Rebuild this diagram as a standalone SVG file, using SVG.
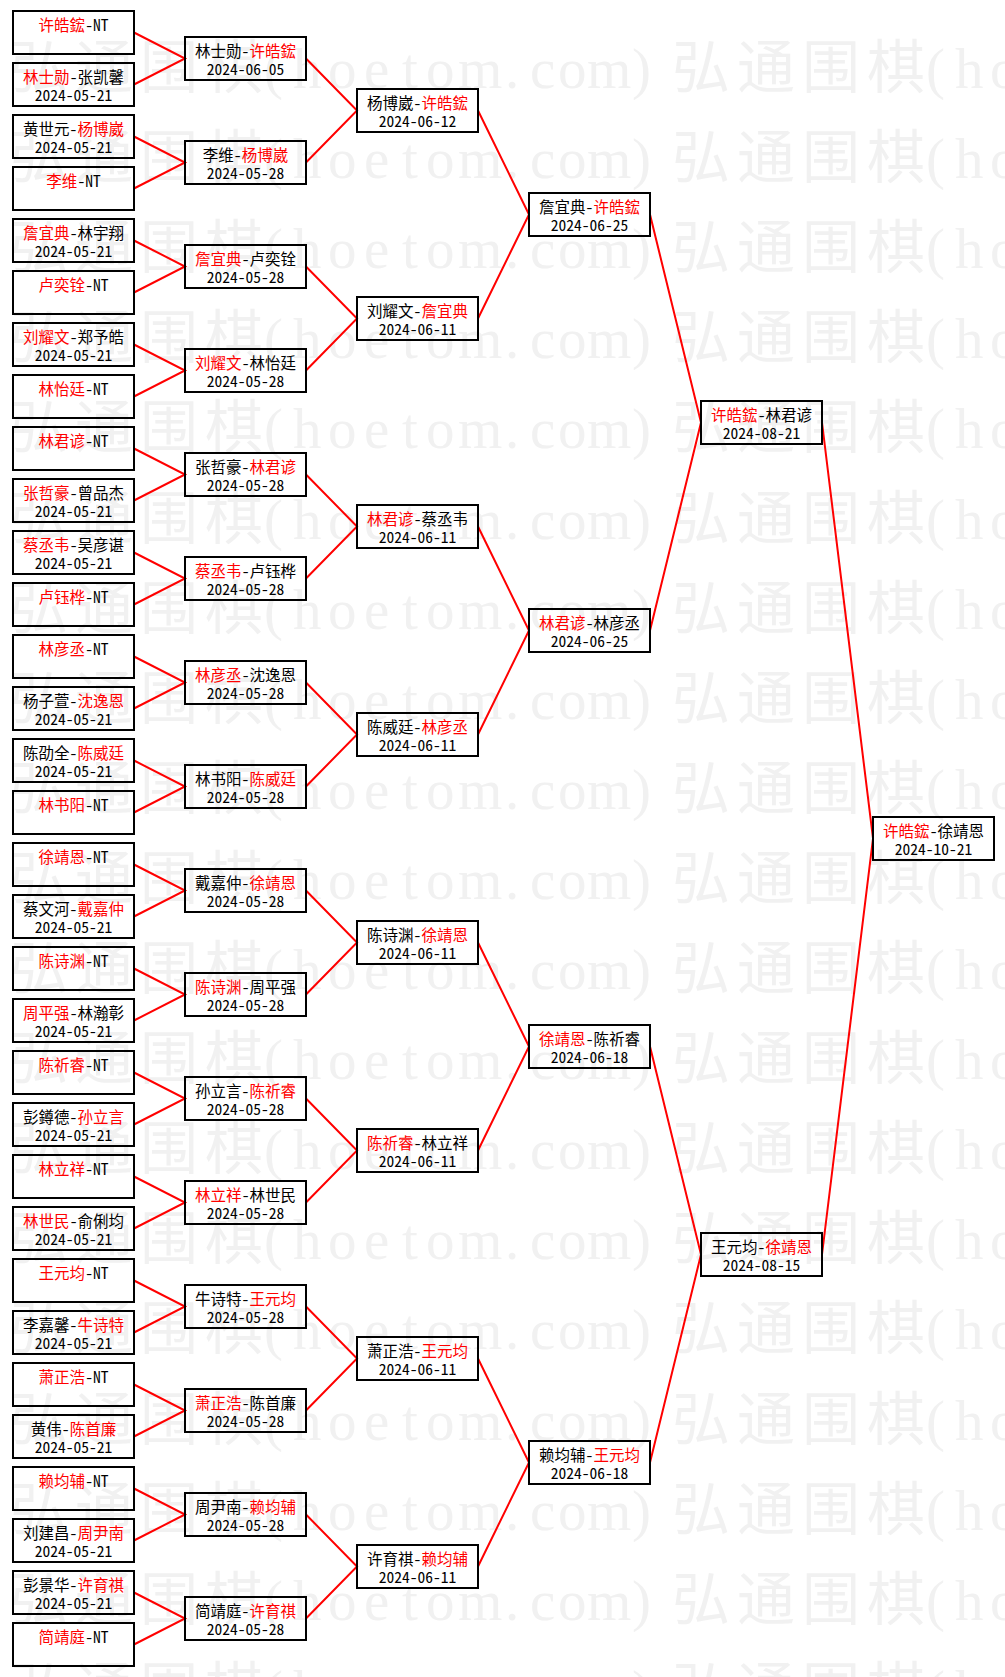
<svg xmlns="http://www.w3.org/2000/svg" xmlns:xlink="http://www.w3.org/1999/xlink" width="1005" height="1677" viewBox="0 0 1005 1677">
<style>
.bg{fill:#ffffff}
.wm{fill:#f1f1f1}
.wc{font-family:"Noto Sans CJK SC",serif;font-size:58px;letter-spacing:7px}
.wl{font-family:"Liberation Serif",serif;font-size:57px}
.c{fill:none;stroke:#f00;stroke-width:2}
.b{fill:none;stroke:#000;stroke-width:2}
.t{font-family:"Noto Sans Mono CJK SC","Noto Sans CJK SC",sans-serif;font-size:15.5px;fill:#000;text-anchor:middle}
.w{fill:#f00}
</style>
<defs>
<text id="wm" class="wm" y="88"><tspan class="wc" x="10">弘通围棋</tspan><tspan class="wl" x="264 293 328 364 402 426 458 505 530 558 587 632">(hoetom.com)</tspan><tspan class="wc" x="672">弘通围棋</tspan><tspan class="wl" x="926 955 990">(ho</tspan></text>
</defs>
<rect class="bg" x="0" y="0" width="1005" height="1677"/>
<g id="watermark">
<use xlink:href="#wm" y="0"/>
<use xlink:href="#wm" y="90.1"/>
<use xlink:href="#wm" y="180.2"/>
<use xlink:href="#wm" y="270.3"/>
<use xlink:href="#wm" y="360.4"/>
<use xlink:href="#wm" y="450.5"/>
<use xlink:href="#wm" y="540.6"/>
<use xlink:href="#wm" y="630.7"/>
<use xlink:href="#wm" y="720.8"/>
<use xlink:href="#wm" y="810.9"/>
<use xlink:href="#wm" y="901"/>
<use xlink:href="#wm" y="991.1"/>
<use xlink:href="#wm" y="1081.2"/>
<use xlink:href="#wm" y="1171.3"/>
<use xlink:href="#wm" y="1261.4"/>
<use xlink:href="#wm" y="1351.5"/>
<use xlink:href="#wm" y="1441.6"/>
<use xlink:href="#wm" y="1531.7"/>
<use xlink:href="#wm" y="1621.8"/>
</g>
<g id="connectors">
<path class="c" d="M134 32.5L185 58.5L134 84.5"/>
<path class="c" d="M134 136.5L185 162.5L134 188.5"/>
<path class="c" d="M134 240.5L185 266.5L134 292.5"/>
<path class="c" d="M134 344.5L185 370.5L134 396.5"/>
<path class="c" d="M134 448.5L185 474.5L134 500.5"/>
<path class="c" d="M134 552.5L185 578.5L134 604.5"/>
<path class="c" d="M134 656.5L185 682.5L134 708.5"/>
<path class="c" d="M134 760.5L185 786.5L134 812.5"/>
<path class="c" d="M134 864.5L185 890.5L134 916.5"/>
<path class="c" d="M134 968.5L185 994.5L134 1020.5"/>
<path class="c" d="M134 1072.5L185 1098.5L134 1124.5"/>
<path class="c" d="M134 1176.5L185 1202.5L134 1228.5"/>
<path class="c" d="M134 1280.5L185 1306.5L134 1332.5"/>
<path class="c" d="M134 1384.5L185 1410.5L134 1436.5"/>
<path class="c" d="M134 1488.5L185 1514.5L134 1540.5"/>
<path class="c" d="M134 1592.5L185 1618.5L134 1644.5"/>
<path class="c" d="M306 58.5L357 110.5L306 162.5"/>
<path class="c" d="M306 266.5L357 318.5L306 370.5"/>
<path class="c" d="M306 474.5L357 526.5L306 578.5"/>
<path class="c" d="M306 682.5L357 734.5L306 786.5"/>
<path class="c" d="M306 890.5L357 942.5L306 994.5"/>
<path class="c" d="M306 1098.5L357 1150.5L306 1202.5"/>
<path class="c" d="M306 1306.5L357 1358.5L306 1410.5"/>
<path class="c" d="M306 1514.5L357 1566.5L306 1618.5"/>
<path class="c" d="M478 110.5L529 214.5L478 318.5"/>
<path class="c" d="M478 526.5L529 630.5L478 734.5"/>
<path class="c" d="M478 942.5L529 1046.5L478 1150.5"/>
<path class="c" d="M478 1358.5L529 1462.5L478 1566.5"/>
<path class="c" d="M650 214.5L701 422.5L650 630.5"/>
<path class="c" d="M650 1046.5L701 1254.5L650 1462.5"/>
<path class="c" d="M822 422.5L873 838.5L822 1254.5"/>
</g>
<g id="r1">
<g id="m0-0" transform="translate(12,10)"><rect class="b" x="1" y="1" width="121" height="43"/><text class="t" x="61.5" y="20.5"><tspan class="w">许皓鋐</tspan>-NT</text></g>
<g id="m0-1" transform="translate(12,62)"><rect class="b" x="1" y="1" width="121" height="43"/><text class="t" x="61.5" y="20.5"><tspan class="w">林士勋</tspan>-张凯馨</text><text class="t" x="61.5" y="38.5">2024-05-21</text></g>
<g id="m0-2" transform="translate(12,114)"><rect class="b" x="1" y="1" width="121" height="43"/><text class="t" x="61.5" y="20.5">黄世元-<tspan class="w">杨博崴</tspan></text><text class="t" x="61.5" y="38.5">2024-05-21</text></g>
<g id="m0-3" transform="translate(12,166)"><rect class="b" x="1" y="1" width="121" height="43"/><text class="t" x="61.5" y="20.5"><tspan class="w">李维</tspan>-NT</text></g>
<g id="m0-4" transform="translate(12,218)"><rect class="b" x="1" y="1" width="121" height="43"/><text class="t" x="61.5" y="20.5"><tspan class="w">詹宜典</tspan>-林宇翔</text><text class="t" x="61.5" y="38.5">2024-05-21</text></g>
<g id="m0-5" transform="translate(12,270)"><rect class="b" x="1" y="1" width="121" height="43"/><text class="t" x="61.5" y="20.5"><tspan class="w">卢奕铨</tspan>-NT</text></g>
<g id="m0-6" transform="translate(12,322)"><rect class="b" x="1" y="1" width="121" height="43"/><text class="t" x="61.5" y="20.5"><tspan class="w">刘耀文</tspan>-郑予皓</text><text class="t" x="61.5" y="38.5">2024-05-21</text></g>
<g id="m0-7" transform="translate(12,374)"><rect class="b" x="1" y="1" width="121" height="43"/><text class="t" x="61.5" y="20.5"><tspan class="w">林怡廷</tspan>-NT</text></g>
<g id="m0-8" transform="translate(12,426)"><rect class="b" x="1" y="1" width="121" height="43"/><text class="t" x="61.5" y="20.5"><tspan class="w">林君谚</tspan>-NT</text></g>
<g id="m0-9" transform="translate(12,478)"><rect class="b" x="1" y="1" width="121" height="43"/><text class="t" x="61.5" y="20.5"><tspan class="w">张哲豪</tspan>-曾品杰</text><text class="t" x="61.5" y="38.5">2024-05-21</text></g>
<g id="m0-10" transform="translate(12,530)"><rect class="b" x="1" y="1" width="121" height="43"/><text class="t" x="61.5" y="20.5"><tspan class="w">蔡丞韦</tspan>-吴彦谌</text><text class="t" x="61.5" y="38.5">2024-05-21</text></g>
<g id="m0-11" transform="translate(12,582)"><rect class="b" x="1" y="1" width="121" height="43"/><text class="t" x="61.5" y="20.5"><tspan class="w">卢钰桦</tspan>-NT</text></g>
<g id="m0-12" transform="translate(12,634)"><rect class="b" x="1" y="1" width="121" height="43"/><text class="t" x="61.5" y="20.5"><tspan class="w">林彦丞</tspan>-NT</text></g>
<g id="m0-13" transform="translate(12,686)"><rect class="b" x="1" y="1" width="121" height="43"/><text class="t" x="61.5" y="20.5">杨子萱-<tspan class="w">沈逸恩</tspan></text><text class="t" x="61.5" y="38.5">2024-05-21</text></g>
<g id="m0-14" transform="translate(12,738)"><rect class="b" x="1" y="1" width="121" height="43"/><text class="t" x="61.5" y="20.5">陈劭全-<tspan class="w">陈威廷</tspan></text><text class="t" x="61.5" y="38.5">2024-05-21</text></g>
<g id="m0-15" transform="translate(12,790)"><rect class="b" x="1" y="1" width="121" height="43"/><text class="t" x="61.5" y="20.5"><tspan class="w">林书阳</tspan>-NT</text></g>
<g id="m0-16" transform="translate(12,842)"><rect class="b" x="1" y="1" width="121" height="43"/><text class="t" x="61.5" y="20.5"><tspan class="w">徐靖恩</tspan>-NT</text></g>
<g id="m0-17" transform="translate(12,894)"><rect class="b" x="1" y="1" width="121" height="43"/><text class="t" x="61.5" y="20.5">蔡文河-<tspan class="w">戴嘉仲</tspan></text><text class="t" x="61.5" y="38.5">2024-05-21</text></g>
<g id="m0-18" transform="translate(12,946)"><rect class="b" x="1" y="1" width="121" height="43"/><text class="t" x="61.5" y="20.5"><tspan class="w">陈诗渊</tspan>-NT</text></g>
<g id="m0-19" transform="translate(12,998)"><rect class="b" x="1" y="1" width="121" height="43"/><text class="t" x="61.5" y="20.5"><tspan class="w">周平强</tspan>-林瀚彰</text><text class="t" x="61.5" y="38.5">2024-05-21</text></g>
<g id="m0-20" transform="translate(12,1050)"><rect class="b" x="1" y="1" width="121" height="43"/><text class="t" x="61.5" y="20.5"><tspan class="w">陈祈睿</tspan>-NT</text></g>
<g id="m0-21" transform="translate(12,1102)"><rect class="b" x="1" y="1" width="121" height="43"/><text class="t" x="61.5" y="20.5">彭鐏德-<tspan class="w">孙立言</tspan></text><text class="t" x="61.5" y="38.5">2024-05-21</text></g>
<g id="m0-22" transform="translate(12,1154)"><rect class="b" x="1" y="1" width="121" height="43"/><text class="t" x="61.5" y="20.5"><tspan class="w">林立祥</tspan>-NT</text></g>
<g id="m0-23" transform="translate(12,1206)"><rect class="b" x="1" y="1" width="121" height="43"/><text class="t" x="61.5" y="20.5"><tspan class="w">林世民</tspan>-俞俐均</text><text class="t" x="61.5" y="38.5">2024-05-21</text></g>
<g id="m0-24" transform="translate(12,1258)"><rect class="b" x="1" y="1" width="121" height="43"/><text class="t" x="61.5" y="20.5"><tspan class="w">王元均</tspan>-NT</text></g>
<g id="m0-25" transform="translate(12,1310)"><rect class="b" x="1" y="1" width="121" height="43"/><text class="t" x="61.5" y="20.5">李嘉馨-<tspan class="w">牛诗特</tspan></text><text class="t" x="61.5" y="38.5">2024-05-21</text></g>
<g id="m0-26" transform="translate(12,1362)"><rect class="b" x="1" y="1" width="121" height="43"/><text class="t" x="61.5" y="20.5"><tspan class="w">萧正浩</tspan>-NT</text></g>
<g id="m0-27" transform="translate(12,1414)"><rect class="b" x="1" y="1" width="121" height="43"/><text class="t" x="61.5" y="20.5">黄伟-<tspan class="w">陈首廉</tspan></text><text class="t" x="61.5" y="38.5">2024-05-21</text></g>
<g id="m0-28" transform="translate(12,1466)"><rect class="b" x="1" y="1" width="121" height="43"/><text class="t" x="61.5" y="20.5"><tspan class="w">赖均辅</tspan>-NT</text></g>
<g id="m0-29" transform="translate(12,1518)"><rect class="b" x="1" y="1" width="121" height="43"/><text class="t" x="61.5" y="20.5">刘建昌-<tspan class="w">周尹南</tspan></text><text class="t" x="61.5" y="38.5">2024-05-21</text></g>
<g id="m0-30" transform="translate(12,1570)"><rect class="b" x="1" y="1" width="121" height="43"/><text class="t" x="61.5" y="20.5">彭景华-<tspan class="w">许育祺</tspan></text><text class="t" x="61.5" y="38.5">2024-05-21</text></g>
<g id="m0-31" transform="translate(12,1622)"><rect class="b" x="1" y="1" width="121" height="43"/><text class="t" x="61.5" y="20.5"><tspan class="w">简靖庭</tspan>-NT</text></g>
</g>
<g id="r2">
<g id="m1-0" transform="translate(184,36)"><rect class="b" x="1" y="1" width="121" height="43"/><text class="t" x="61.5" y="20.5">林士勋-<tspan class="w">许皓鋐</tspan></text><text class="t" x="61.5" y="38.5">2024-06-05</text></g>
<g id="m1-1" transform="translate(184,140)"><rect class="b" x="1" y="1" width="121" height="43"/><text class="t" x="61.5" y="20.5">李维-<tspan class="w">杨博崴</tspan></text><text class="t" x="61.5" y="38.5">2024-05-28</text></g>
<g id="m1-2" transform="translate(184,244)"><rect class="b" x="1" y="1" width="121" height="43"/><text class="t" x="61.5" y="20.5"><tspan class="w">詹宜典</tspan>-卢奕铨</text><text class="t" x="61.5" y="38.5">2024-05-28</text></g>
<g id="m1-3" transform="translate(184,348)"><rect class="b" x="1" y="1" width="121" height="43"/><text class="t" x="61.5" y="20.5"><tspan class="w">刘耀文</tspan>-林怡廷</text><text class="t" x="61.5" y="38.5">2024-05-28</text></g>
<g id="m1-4" transform="translate(184,452)"><rect class="b" x="1" y="1" width="121" height="43"/><text class="t" x="61.5" y="20.5">张哲豪-<tspan class="w">林君谚</tspan></text><text class="t" x="61.5" y="38.5">2024-05-28</text></g>
<g id="m1-5" transform="translate(184,556)"><rect class="b" x="1" y="1" width="121" height="43"/><text class="t" x="61.5" y="20.5"><tspan class="w">蔡丞韦</tspan>-卢钰桦</text><text class="t" x="61.5" y="38.5">2024-05-28</text></g>
<g id="m1-6" transform="translate(184,660)"><rect class="b" x="1" y="1" width="121" height="43"/><text class="t" x="61.5" y="20.5"><tspan class="w">林彦丞</tspan>-沈逸恩</text><text class="t" x="61.5" y="38.5">2024-05-28</text></g>
<g id="m1-7" transform="translate(184,764)"><rect class="b" x="1" y="1" width="121" height="43"/><text class="t" x="61.5" y="20.5">林书阳-<tspan class="w">陈威廷</tspan></text><text class="t" x="61.5" y="38.5">2024-05-28</text></g>
<g id="m1-8" transform="translate(184,868)"><rect class="b" x="1" y="1" width="121" height="43"/><text class="t" x="61.5" y="20.5">戴嘉仲-<tspan class="w">徐靖恩</tspan></text><text class="t" x="61.5" y="38.5">2024-05-28</text></g>
<g id="m1-9" transform="translate(184,972)"><rect class="b" x="1" y="1" width="121" height="43"/><text class="t" x="61.5" y="20.5"><tspan class="w">陈诗渊</tspan>-周平强</text><text class="t" x="61.5" y="38.5">2024-05-28</text></g>
<g id="m1-10" transform="translate(184,1076)"><rect class="b" x="1" y="1" width="121" height="43"/><text class="t" x="61.5" y="20.5">孙立言-<tspan class="w">陈祈睿</tspan></text><text class="t" x="61.5" y="38.5">2024-05-28</text></g>
<g id="m1-11" transform="translate(184,1180)"><rect class="b" x="1" y="1" width="121" height="43"/><text class="t" x="61.5" y="20.5"><tspan class="w">林立祥</tspan>-林世民</text><text class="t" x="61.5" y="38.5">2024-05-28</text></g>
<g id="m1-12" transform="translate(184,1284)"><rect class="b" x="1" y="1" width="121" height="43"/><text class="t" x="61.5" y="20.5">牛诗特-<tspan class="w">王元均</tspan></text><text class="t" x="61.5" y="38.5">2024-05-28</text></g>
<g id="m1-13" transform="translate(184,1388)"><rect class="b" x="1" y="1" width="121" height="43"/><text class="t" x="61.5" y="20.5"><tspan class="w">萧正浩</tspan>-陈首廉</text><text class="t" x="61.5" y="38.5">2024-05-28</text></g>
<g id="m1-14" transform="translate(184,1492)"><rect class="b" x="1" y="1" width="121" height="43"/><text class="t" x="61.5" y="20.5">周尹南-<tspan class="w">赖均辅</tspan></text><text class="t" x="61.5" y="38.5">2024-05-28</text></g>
<g id="m1-15" transform="translate(184,1596)"><rect class="b" x="1" y="1" width="121" height="43"/><text class="t" x="61.5" y="20.5">简靖庭-<tspan class="w">许育祺</tspan></text><text class="t" x="61.5" y="38.5">2024-05-28</text></g>
</g>
<g id="r3">
<g id="m2-0" transform="translate(356,88)"><rect class="b" x="1" y="1" width="121" height="43"/><text class="t" x="61.5" y="20.5">杨博崴-<tspan class="w">许皓鋐</tspan></text><text class="t" x="61.5" y="38.5">2024-06-12</text></g>
<g id="m2-1" transform="translate(356,296)"><rect class="b" x="1" y="1" width="121" height="43"/><text class="t" x="61.5" y="20.5">刘耀文-<tspan class="w">詹宜典</tspan></text><text class="t" x="61.5" y="38.5">2024-06-11</text></g>
<g id="m2-2" transform="translate(356,504)"><rect class="b" x="1" y="1" width="121" height="43"/><text class="t" x="61.5" y="20.5"><tspan class="w">林君谚</tspan>-蔡丞韦</text><text class="t" x="61.5" y="38.5">2024-06-11</text></g>
<g id="m2-3" transform="translate(356,712)"><rect class="b" x="1" y="1" width="121" height="43"/><text class="t" x="61.5" y="20.5">陈威廷-<tspan class="w">林彦丞</tspan></text><text class="t" x="61.5" y="38.5">2024-06-11</text></g>
<g id="m2-4" transform="translate(356,920)"><rect class="b" x="1" y="1" width="121" height="43"/><text class="t" x="61.5" y="20.5">陈诗渊-<tspan class="w">徐靖恩</tspan></text><text class="t" x="61.5" y="38.5">2024-06-11</text></g>
<g id="m2-5" transform="translate(356,1128)"><rect class="b" x="1" y="1" width="121" height="43"/><text class="t" x="61.5" y="20.5"><tspan class="w">陈祈睿</tspan>-林立祥</text><text class="t" x="61.5" y="38.5">2024-06-11</text></g>
<g id="m2-6" transform="translate(356,1336)"><rect class="b" x="1" y="1" width="121" height="43"/><text class="t" x="61.5" y="20.5">萧正浩-<tspan class="w">王元均</tspan></text><text class="t" x="61.5" y="38.5">2024-06-11</text></g>
<g id="m2-7" transform="translate(356,1544)"><rect class="b" x="1" y="1" width="121" height="43"/><text class="t" x="61.5" y="20.5">许育祺-<tspan class="w">赖均辅</tspan></text><text class="t" x="61.5" y="38.5">2024-06-11</text></g>
</g>
<g id="r4">
<g id="m3-0" transform="translate(528,192)"><rect class="b" x="1" y="1" width="121" height="43"/><text class="t" x="61.5" y="20.5">詹宜典-<tspan class="w">许皓鋐</tspan></text><text class="t" x="61.5" y="38.5">2024-06-25</text></g>
<g id="m3-1" transform="translate(528,608)"><rect class="b" x="1" y="1" width="121" height="43"/><text class="t" x="61.5" y="20.5"><tspan class="w">林君谚</tspan>-林彦丞</text><text class="t" x="61.5" y="38.5">2024-06-25</text></g>
<g id="m3-2" transform="translate(528,1024)"><rect class="b" x="1" y="1" width="121" height="43"/><text class="t" x="61.5" y="20.5"><tspan class="w">徐靖恩</tspan>-陈祈睿</text><text class="t" x="61.5" y="38.5">2024-06-18</text></g>
<g id="m3-3" transform="translate(528,1440)"><rect class="b" x="1" y="1" width="121" height="43"/><text class="t" x="61.5" y="20.5">赖均辅-<tspan class="w">王元均</tspan></text><text class="t" x="61.5" y="38.5">2024-06-18</text></g>
</g>
<g id="r5">
<g id="m4-0" transform="translate(700,400)"><rect class="b" x="1" y="1" width="121" height="43"/><text class="t" x="61.5" y="20.5"><tspan class="w">许皓鋐</tspan>-林君谚</text><text class="t" x="61.5" y="38.5">2024-08-21</text></g>
<g id="m4-1" transform="translate(700,1232)"><rect class="b" x="1" y="1" width="121" height="43"/><text class="t" x="61.5" y="20.5">王元均-<tspan class="w">徐靖恩</tspan></text><text class="t" x="61.5" y="38.5">2024-08-15</text></g>
</g>
<g id="final">
<g id="m5-0" transform="translate(872,816)"><rect class="b" x="1" y="1" width="121" height="43"/><text class="t" x="61.5" y="20.5"><tspan class="w">许皓鋐</tspan>-徐靖恩</text><text class="t" x="61.5" y="38.5">2024-10-21</text></g>
</g>
</svg>
